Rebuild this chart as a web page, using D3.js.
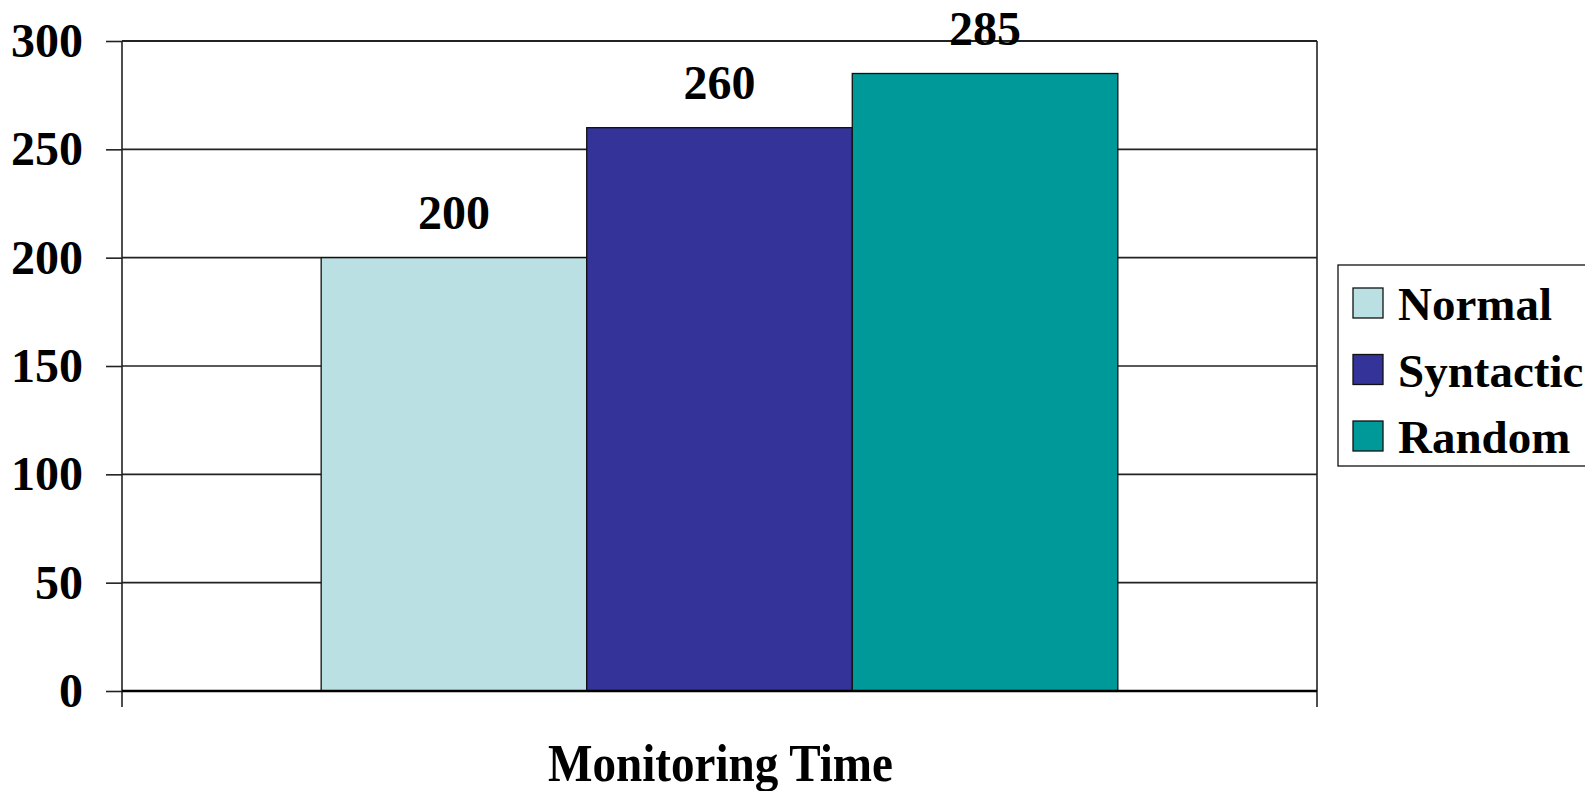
<!DOCTYPE html>
<html>
<head>
<meta charset="utf-8">
<script src="https://cdn.jsdelivr.net/npm/d3@7"></script>
<style>
  html, body { margin: 0; padding: 0; background: #fff; }
  svg { display: block; }
  text { font-family: "Liberation Serif", "Times New Roman", serif; font-weight: bold; fill: #000; }
</style>
</head>
<body>
<svg id="chart" width="1585" height="791"></svg>
<script>
// Chart data
const categories = ["Monitoring Time"];
const seriesNames = ["Normal", "Syntactic", "Random"];
const seriesValues = [200, 260, 285];
const seriesColors = ["#BBE0E3", "#333399", "#009999"];
const yTicks = [0, 50, 100, 150, 200, 250, 300];

const W = 1585, H = 791;
const plot = { left: 122, right: 1317, top: 41, bottom: 691 };

const svg = d3.select("#chart");

const y = d3.scaleLinear().domain([0, 300]).range([plot.bottom, plot.top]);
const x0 = d3.scaleBand().domain(categories).range([plot.left, plot.right]).paddingInner(0).paddingOuter(0);
// gap between clusters = 150% of a bar width
const barW = x0.bandwidth() / (seriesNames.length + 1.5);
const x1 = d3.scaleBand().domain(seriesNames)
  .range([x0(categories[0]) + barW * 0.75, x0(categories[0]) + x0.bandwidth() - barW * 0.75])
  .padding(0);

// Horizontal gridlines with left ticks
const yAxis = d3.axisLeft(y).tickValues(yTicks).tickSize(16).tickPadding(23);
const gy = svg.append("g").attr("transform", `translate(${plot.left},0)`).call(yAxis);
gy.select(".domain").remove();
gy.selectAll(".tick line").attr("stroke", "#222").attr("stroke-width", 1.6);
gy.selectAll(".tick text").attr("font-size", 48).attr("font-family", "Liberation Serif").attr("font-weight", "bold").attr("fill", "#000");

svg.append("g").selectAll("line.grid").data(yTicks).join("line")
  .attr("x1", plot.left).attr("x2", plot.right)
  .attr("y1", d => y(d)).attr("y2", d => y(d))
  .attr("stroke", "#222").attr("stroke-width", d => (d === 300 ? 2.2 : 1.6));

// Bars
const data = seriesNames.map((name, i) => ({ name, value: seriesValues[i], color: seriesColors[i] }));
svg.append("g").selectAll("rect").data(data).join("rect")
  .attr("x", d => x1(d.name))
  .attr("y", d => y(d.value))
  .attr("width", x1.bandwidth())
  .attr("height", d => y(0) - y(d.value))
  .attr("fill", d => d.color)
  .attr("stroke", "#111").attr("stroke-width", 1.3);

// Axis lines
svg.append("line").attr("x1", plot.left).attr("x2", plot.left).attr("y1", plot.top).attr("y2", plot.bottom + 16)
  .attr("stroke", "#222").attr("stroke-width", 1.6);
svg.append("line").attr("x1", plot.right).attr("x2", plot.right).attr("y1", plot.top).attr("y2", plot.bottom + 16)
  .attr("stroke", "#222").attr("stroke-width", 1.6);
svg.append("line").attr("x1", plot.left).attr("x2", plot.right).attr("y1", plot.bottom).attr("y2", plot.bottom)
  .attr("stroke", "#000").attr("stroke-width", 2.4);

// Value labels
svg.append("g").selectAll("text").data(data).join("text")
  .attr("x", d => x1(d.name) + x1.bandwidth() / 2)
  .attr("y", d => y(d.value) - 29)
  .attr("text-anchor", "middle")
  .attr("font-size", 48)
  .text(d => d.value);

// Category label
svg.append("text")
  .attr("x", x0(categories[0]) + x0.bandwidth() / 2 + 1)
  .attr("y", 781)
  .attr("text-anchor", "middle")
  .attr("font-size", 52)
  .attr("textLength", 345)
  .attr("lengthAdjust", "spacingAndGlyphs")
  .text(categories[0]);

// Legend
const lg = svg.append("g");
lg.append("rect").attr("x", 1338).attr("y", 265).attr("width", 300).attr("height", 201)
  .attr("fill", "#fff").attr("stroke", "#111").attr("stroke-width", 1.3);
const items = lg.selectAll("g.item").data(data).join("g")
  .attr("transform", (d, i) => `translate(1353, ${288 + i * 66.5})`);
items.append("rect").attr("width", 30).attr("height", 30)
  .attr("fill", d => d.color).attr("stroke", "#111").attr("stroke-width", 1.3);
items.append("text").attr("x", 45).attr("y", 32).attr("font-size", 47).text(d => d.name);
</script>
</body>
</html>
